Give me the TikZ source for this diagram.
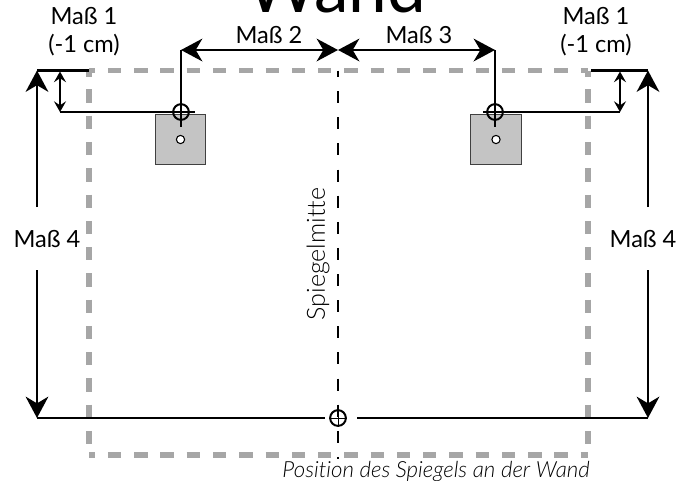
\documentclass[tikz,border=0pt]{standalone}
\usepackage{fontspec}
\setmainfont{Lato}
\newfontfamily\lightfont[Ligatures=NoCommon]{Lato Light}
\usetikzlibrary{arrows.meta,positioning}

\definecolor{wallgray}{HTML}{A6A6A6}
\definecolor{platefill}{HTML}{C4C4C4}

\tikzset{
	dimlabel/.style={font=\fontsize{17.7}{21}\selectfont,inner sep=0pt,align=center},
	plate/.style={draw=black!75,fill=platefill,line width=0.8pt,minimum size=38pt,inner sep=0pt},
	hole/.style={circle,draw=black,fill=white,line width=0.8pt,minimum size=6.2pt,inner sep=0pt},
	cross/.style={circle,draw=black,line width=1.5pt,minimum size=11.8pt,inner sep=0pt},
	line/.style={line width=1.9pt},
	wall/.style={draw=wallgray,line width=3.8pt,dash pattern=on 10pt off 9.7pt,dash phase=5.5pt},
	middle/.style={line width=1.7pt,dash pattern=on 9pt off 10.6pt,dash phase=4.3pt},
	small/.style={line width=1.6pt,{Stealth[length=8pt,width=9pt,inset=3pt]}-{Stealth[length=8pt,width=9pt,inset=3pt]}},
	wide/.style={line width=1.9pt,{Stealth[length=16pt,width=17pt,inset=5pt]}-{Stealth[length=16pt,width=17pt,inset=5pt]}},
	tall/.style={line width=1.9pt,-{Stealth[length=16pt,width=17pt,inset=5pt]}},
}

\begin{document}
\begin{tikzpicture}[x=0.75pt,y=-0.75pt]
	\useasboundingbox (0,0) rectangle (692,480);
	\clip (0,0) rectangle (692,480);

	% Define nodes
	\node[font=\fontsize{52}{52}\selectfont,inner sep=0pt,anchor=base] (wand) at (336,12) {Wand};
	\node[dimlabel] (dimal) at (84,31.5) {Maß 1\\(-1 cm)};
	\node[dimlabel] (dimar) at (596,31.5) {Maß 1\\(-1 cm)};
	\node[dimlabel] (dimb) at (269,35.5) {Maß 2};
	\node[dimlabel] (dimc) at (419,35.5) {Maß 3};
	\node[dimlabel] (dimdl) at (47,239) {Maß 4};
	\node[dimlabel] (dimdr) at (643,239) {Maß 4};
	\node[rotate=90,font=\fontsize{18.8}{21}\lightfont,inner sep=0pt] (mitte) at (318,254) {Spiegelmitte};
	\node[font=\fontsize{16.7}{19}\lightfont\itshape,inner sep=0pt,anchor=base east] (pos) at (590,477) {Position des Spiegels an der Wand};

	\node[plate] (platel) at (180.5,139.5) {};
	\node[plate] (plater) at (496,139.5) {};
	\node[hole] (holel) at (platel) {};
	\node[hole] (holer) at (plater) {};
	\node[cross] (crossl) at (181,112) {};
	\node[cross] (crossr) at (495,112) {};
	\node[cross] (crossm) at (338,418) {};

	% Define coordinates
	\coordinate (walltl) at (89,70.5);
	\coordinate (walltr) at (588,70.5);
	\coordinate (wallbr) at (588,455);
	\coordinate (wallbl) at (89,455);
	\coordinate (midtip) at (338,50);
	\coordinate (midtop) at (338,70.7);
	\coordinate (midbot) at (338,459);
	\coordinate (cornerl) at (37,70.5);
	\coordinate (cornerr) at (648,70.5);
	\coordinate (basel) at (37,418);
	\coordinate (baser) at (648,418);
	\coordinate (upl) at (181,50);
	\coordinate (upr) at (495,50);
	\coordinate (stepl) at (60,112);
	\coordinate (stepr) at (620,112);
	\coordinate (stepltop) at (60,71.5);
	\coordinate (steprtop) at (620,71.5);
	\coordinate (tickl) at (195,112);
	\coordinate (tickr) at (483,112);
	\coordinate (taill) at (181,127);
	\coordinate (tailr) at (495,127);
	\coordinate (linel) at (325,418);
	\coordinate (liner) at (357,418);
	\coordinate (startlu) at (37,207);
	\coordinate (startld) at (37,270);
	\coordinate (startru) at (648,207);
	\coordinate (startrd) at (648,270);
	\coordinate (wallstubr) at (591,70.5);

	% Connect the nodes
	\draw[wall] (walltl) -- (walltr);
	\draw[wall] (walltl) -- (wallbl);
	\draw[wall] (walltr) -- (wallbr);
	\draw[wall] (wallbl) -- (wallbr);
	\draw[middle] (midtop) -- (midbot);
	\draw[line] (cornerl) -- (walltl);
	\draw[line] (wallstubr) -- (cornerr);
	\draw[line] (stepl) -- (tickl);
	\draw[line] (tickr) -- (stepr);
	\draw[line] (upl) -- (taill);
	\draw[line] (upr) -- (tailr);
	\draw[line] (basel) -- (linel);
	\draw[line] (liner) -- (baser);
	\draw[small] (stepltop) -- (stepl);
	\draw[small] (steprtop) -- (stepr);
	\draw[wide] (upl) -- (midtip);
	\draw[wide] (midtip) -- (upr);
	\draw[tall] (startlu) -- (cornerl);
	\draw[tall] (startld) -- (basel);
	\draw[tall] (startru) -- (cornerr);
	\draw[tall] (startrd) -- (baser);
	\draw[line width=0.6pt] (crossm.west) -- (crossm.east);
	\draw[line width=0.6pt] (crossm.north) -- (crossm.south);
\end{tikzpicture}
\end{document}
